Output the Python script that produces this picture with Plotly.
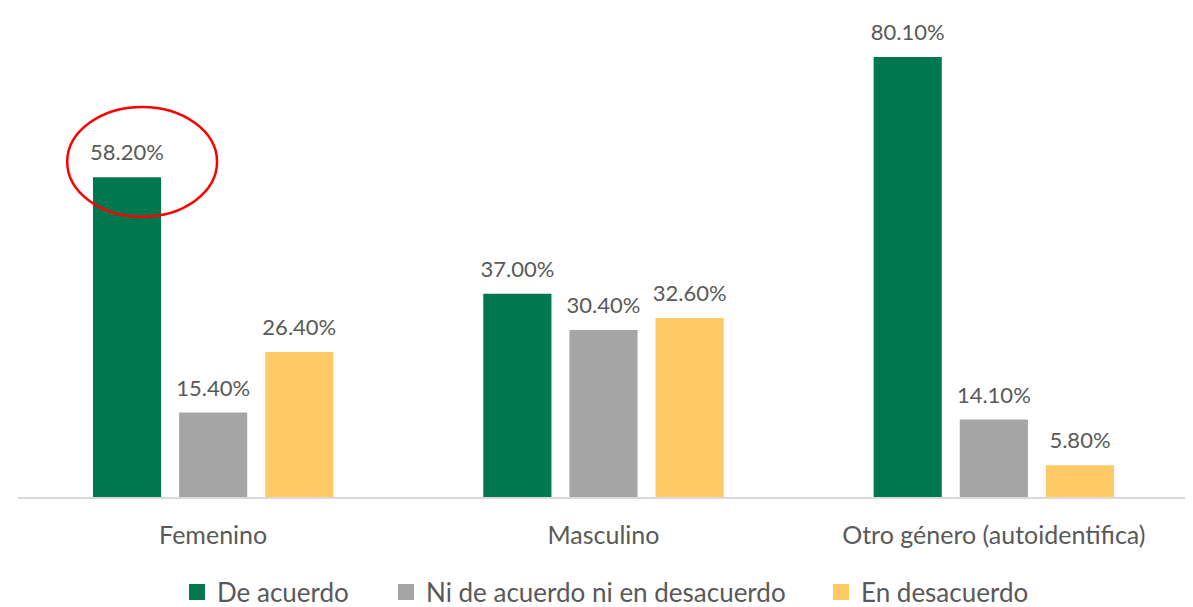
import plotly.graph_objects as go

categories = ["Femenino", "Masculino", "Otro género (autoidentifica)"]
series_names = ["De acuerdo", "Ni de acuerdo ni en desacuerdo", "En desacuerdo"]
de_acuerdo = [58.2, 37.0, 80.1]
ni_ni = [15.4, 30.4, 14.1]
en_desacuerdo = [26.4, 32.6, 5.8]
colors = ["#00774F", "#A5A5A5", "#FFC966"]

FONT = "Lato"
TXT = "#595959"
LABEL_GAP = 1.6  # spacing (axis units) between bar top and its value label

# page body has an 8px default margin, so the figure is sized to fit the window
W, H = 1185, 599
ML, MR, MT, MB = 10, 4, 22, 110
legend_ids = ["legend", "legend2", "legend3"]
legend_left_px = [169, 378, 813]  # left edge of each legend box (figure pixels)

fig = go.Figure()
for i, (name, vals, col) in enumerate(zip(series_names, [de_acuerdo, ni_ni, en_desacuerdo], colors)):
    fig.add_trace(go.Bar(
        x=categories, y=vals, name=name, marker_color=col, showlegend=False,
        offsetgroup=str(i), hoverinfo="y", marker_line_width=0,
    ))
    # transparent spacer carrying the value label above the bar
    fig.add_trace(go.Bar(
        x=categories, y=[LABEL_GAP] * len(vals), base=vals, showlegend=False,
        offsetgroup=str(i), marker_color="rgba(0,0,0,0)", marker_line_width=0,
        hoverinfo="skip", constraintext="none",
        text=[f"{v:.2f}%" for v in vals], textposition="outside",
        textfont=dict(family=FONT, size=22, color=TXT), cliponaxis=False,
    ))
    fig.add_trace(go.Scatter(
        x=[None], y=[None], mode="markers", name=name, legend=legend_ids[i],
        marker=dict(symbol="square", size=16, color=col),
    ))

# red ellipse highlighting Femenino / De acuerdo label
fig.add_shape(type="circle", xref="x", yref="y",
              x0=-0.374, x1=0.010, y0=51.0, y1=71.0,
              line=dict(color="#FF0000", width=2.5))

plot_w = W - ML - MR
plot_h = H - MT - MB
legend_y = (H - MB - 584) / plot_h
for lid, lx in zip(legend_ids, legend_left_px):
    fig.update_layout({lid: dict(
        orientation="h", x=(lx - ML) / plot_w, xanchor="left",
        y=legend_y, yanchor="middle", bgcolor="rgba(0,0,0,0)",
        font=dict(family=FONT, size=26, color=TXT), itemwidth=30,
    )})

fig.update_layout(
    width=W, height=H,
    margin=dict(l=ML, r=MR, t=MT, b=MB, autoexpand=False),
    paper_bgcolor="white", plot_bgcolor="white",
    barmode="group", bargap=0.338, bargroupgap=0.209,
    font=dict(family=FONT, size=25, color=TXT),
    xaxis=dict(showline=True, linecolor="#D9D9D9", linewidth=2, automargin=False,
               ticks="", tickfont=dict(family=FONT, size=25, color=TXT),
               ticklabelstandoff=15, showgrid=False),
    yaxis=dict(range=[0, 85], visible=False, showgrid=False, zeroline=False),
    showlegend=True,
)

fig.write_html("out.html")
